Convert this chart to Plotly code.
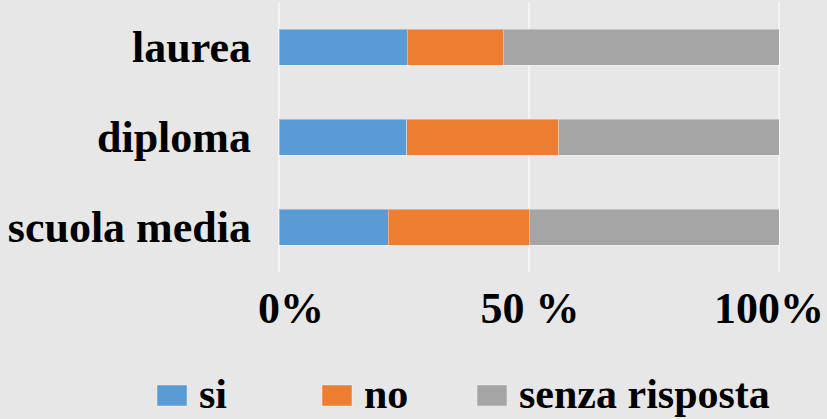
import plotly.graph_objects as go

# Categories (bottom to top as plotted)
categories = ["scuola media", "diploma", "laurea"]

# Percentages per answer
si = [21.8, 25.5, 25.6]
no = [28.2, 30.4, 19.2]
senza_risposta = [50.0, 44.1, 55.2]

series_names = ["si", "no", "senza risposta"]
series_values = [si, no, senza_risposta]
colors = ["#5b9bd5", "#ed7d31", "#a5a5a5"]

tick_vals = [0, 50, 100]
# labels nudged like the original (Excel keeps the end labels inside)
tick_text = ["\u00a0\u00a0\u00a0\u00a00%", "\u00a0\u00a050 %", "100%"]

font_family = "Liberation Serif, Times New Roman, serif"

W, H = 827, 419
m_l, m_r, m_t, m_b = 277, 46, 2, 147
plot_w = W - m_l - m_r
plot_h = H - m_t - m_b


def px_to_paper_x(px):
    return (px - m_l) / plot_w


def px_to_paper_y(py):
    return (H - m_b - py) / plot_h


fig = go.Figure()
for name, vals, col in zip(series_names, series_values, colors):
    fig.add_trace(
        go.Bar(
            y=categories,
            x=vals,
            name=name,
            orientation="h",
            marker=dict(color=col, line=dict(color="rgba(255,255,255,0.35)", width=1)),
            showlegend=False,
        )
    )

# Hand-built legend: big swatches like the original
legend_left_px = [157, 322, 477]
shapes = []
annotations = []
for name, col, lx in zip(series_names, colors, legend_left_px):
    shapes.append(
        dict(
            type="rect",
            xref="paper",
            yref="paper",
            x0=px_to_paper_x(lx),
            x1=px_to_paper_x(lx + 30),
            y0=px_to_paper_y(406),
            y1=px_to_paper_y(385),
            fillcolor=col,
            line=dict(color="rgba(255,255,255,0.4)", width=1),
        )
    )
    annotations.append(
        dict(
            text=name,
            xref="paper",
            yref="paper",
            x=px_to_paper_x(lx + 40),
            y=px_to_paper_y(394),
            xanchor="left",
            yanchor="middle",
            showarrow=False,
            font=dict(size=42, family=font_family, color="black", weight="bold"),
        )
    )

fig.update_layout(
    width=W,
    height=H,
    barmode="stack",
    bargap=0.6,
    paper_bgcolor="#e7e7e7",
    plot_bgcolor="#e7e7e7",
    margin=dict(l=m_l, r=m_r, t=m_t, b=m_b, autoexpand=False),
    font=dict(family=font_family, color="black"),
    showlegend=False,
    shapes=shapes,
    annotations=annotations,
    xaxis=dict(
        range=[-0.4, 100.4],
        tickvals=tick_vals,
        ticktext=tick_text,
        showgrid=True,
        gridcolor="#f4f4f4",
        gridwidth=2,
        zeroline=False,
        showline=False,
        ticks="",
        automargin=False,
        ticklabeloverflow="allow",
        ticklabelstandoff=6,
        ticklabelshift=-10,
        tickfont=dict(size=44, family=font_family, color="black", weight="bold"),
        fixedrange=True,
    ),
    yaxis=dict(
        showgrid=False,
        zeroline=False,
        showline=False,
        ticks="",
        automargin=False,
        ticklabelstandoff=25,
        tickfont=dict(size=44, family=font_family, color="black", weight="bold"),
        fixedrange=True,
    ),
)

# drop the page's default body margin so the figure sits at the window corner
fig.write_html(
    "out.html",
    config={"displayModeBar": False},
    post_script="document.body.style.margin='0px';document.body.style.overflow='hidden';",
)
